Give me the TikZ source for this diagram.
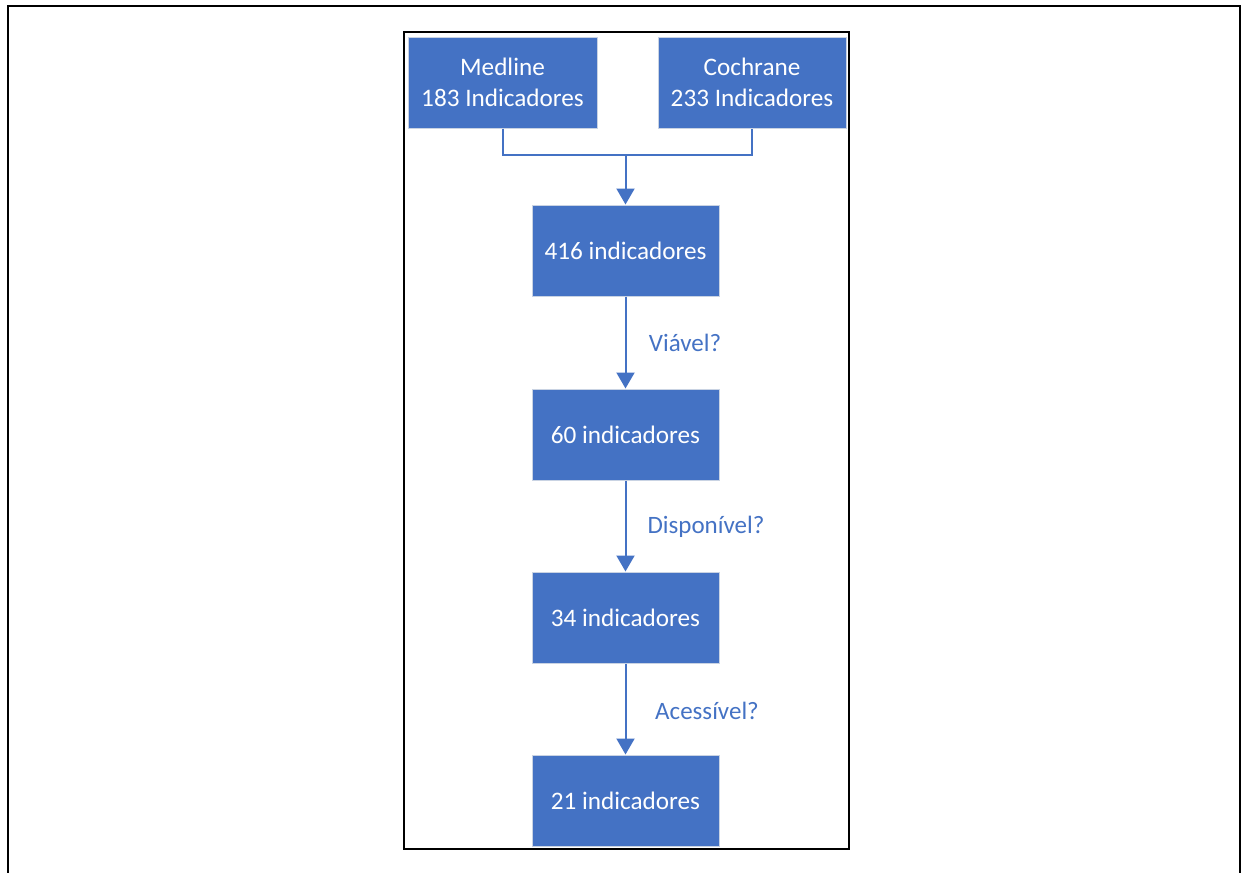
\documentclass[tikz,border=0pt]{standalone}
\usepackage{fontspec}
\setmainfont{Carlito}
\usetikzlibrary{arrows.meta}
\definecolor{boxblue}{HTML}{4472C4}
\definecolor{boxedge}{HTML}{C9D3E3}
\tikzset{
  box/.style={rectangle, fill=boxblue, draw=boxedge, line width=1pt, text=white,
    minimum width=#1, minimum height=91pt, inner sep=0pt, align=center,
    font=\fontsize{25.2}{31}\selectfont},
  box/.default=187pt,
  conn/.style={draw=boxblue, line width=2pt},
  arr/.style={conn, -{Triangle[width=18pt,length=16pt]}},
  lbl/.style={text=boxblue, font=\fontsize{25}{28}\selectfont, inner sep=0pt},
}
\begin{document}
\begin{tikzpicture}[x=1pt,y=-1pt]
\useasboundingbox (0,0) rectangle (1248,873);
% outer frame (open at the bottom)
\draw[line width=2.5pt] (8,880) -- (8,6) -- (1240,6) -- (1240,880);
% inner frame
\draw[line width=1.3pt] (404,32) rectangle (849,849);
% boxes
\node[box=189pt] (med) at (502.5,82.5) {Medline\\183 Indicadores};
\node[box=188pt] (coc) at (752,82.5) {Cochrane\\233 Indicadores};
\node[box] (n416) at (625.5,250.5) {416 indicadores};
\node[box] (n60) at (625.5,434.5) {60 indicadores};
\node[box] (n34) at (625.5,617.5) {34 indicadores};
\node[box] (n21) at (625.5,800.5) {21 indicadores};
% connectors
\coordinate (jn) at (625.5,155);
\draw[conn] (med.south) |- (jn) -| (coc.south);
\draw[arr] (jn) -- (n416.north);
\draw[arr] (n416.south) -- (n60.north);
\draw[arr] (n60.south) -- (n34.north);
\draw[arr] (n34.south) -- (n21.north);
% labels
\node[lbl] (l1) at (685,343) {Viável?};
\node[lbl] (l2) at (706,527) {Disponível?};
\node[lbl] (l3) at (707,711) {Acessível?};
\end{tikzpicture}
\end{document}
